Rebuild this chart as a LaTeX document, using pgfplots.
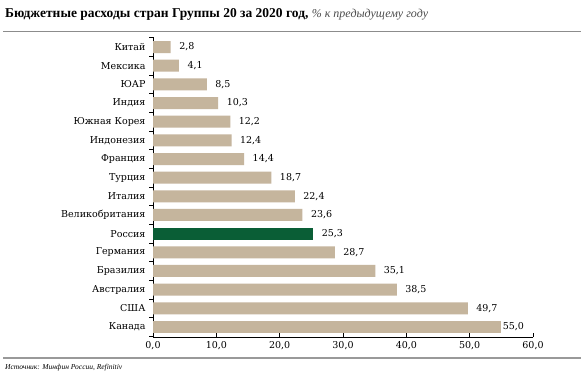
\documentclass[border=0pt]{standalone}
\usepackage{pgfplots}
\pgfplotsset{compat=1.18}
\usepackage{fontspec}
\setmainfont{DejaVu Serif}
\newfontfamily\titlefont{Liberation Serif}
\definecolor{beige}{RGB}{197,181,157}
\definecolor{rusgreen}{RGB}{10,94,54}
\begin{document}
\begin{tikzpicture}[x=1pt,y=1pt]
\useasboundingbox (0,0) rectangle (583,372);
\fill[white] (0,0) rectangle (583,372);
\node[anchor=base west, inner sep=0] at (5,354) {\titlefont\fontsize{13.5}{15}\selectfont\bfseries Бюджетные расходы стран Группы 20 за 2020 год, {\mdseries\itshape\fontsize{12}{14}\selectfont\color{black!70}\% к предыдущему году}};
\draw[black!45, line width=1pt] (3,340) -- (581,340);
\draw[black!40, line width=2pt] (3,14) -- (581,14);
\node[anchor=base west, inner sep=0] at (5,3) {\titlefont\itshape\fontsize{7.5}{9}\selectfont Источник: Минфин России, Refinitiv};
\begin{axis}[
  at={(153pt,35pt)}, anchor=south west,
  scale only axis, width=380pt, height=300pt,
  xbar, bar width=12pt, bar shift=0pt,
  xmin=0, xmax=60, ymin=-0.54, ymax=15.54,
  axis lines=left, axis line style={-, black, line width=0.8pt},
  tick align=inside, major tick length=4pt, minor tick length=4pt,
  xtick={0,10,20,30,40,50,60},
  ytick={0,...,15},
  yticklabels={Канада,США,Австралия,Бразилия,Германия,Россия,Великобритания,Италия,Турция,Франция,Индонезия,Южная Корея,Индия,ЮАР,Мексика,Китай},
  major y tick style={draw=none},
  minor ytick={-0.5,0.5,...,15.5},
  minor y tick style={xshift=-4pt, black, line width=0.6pt},
  major x tick style={black, line width=0.6pt},
  /pgf/number format/assume math mode=true,
  /pgf/number format/.cd, fixed, fixed zerofill, precision=1, use comma, /pgfplots/.cd,
  tick label style={font=\fontsize{9.5}{11}\selectfont},
  yticklabel style={xshift=-4pt},
  xticklabel style={yshift=-1pt},
  clip=false,
]
\addplot[fill=beige, draw=none, nodes near coords, nodes near coords style={font=\fontsize{9.5}{11}\selectfont, anchor=west, xshift=5pt, black}] coordinates {
(49.7,1) (38.5,2) (35.1,3) (28.7,4) (23.6,6) (22.4,7) (18.7,8) (14.4,9) (12.4,10) (12.2,11) (10.3,12) (8.5,13) (4.1,14) (2.8,15)
};
\addplot[fill=beige, draw=none, nodes near coords, nodes near coords style={font=\fontsize{9.5}{11}\selectfont, anchor=west, xshift=-2pt, black}] coordinates {(55.0,0)};
\addplot[fill=rusgreen, draw=none, nodes near coords, nodes near coords style={font=\fontsize{9.5}{11}\selectfont, anchor=west, xshift=5pt, black}] coordinates {(25.3,5)};
\end{axis}
\end{tikzpicture}
\end{document}
